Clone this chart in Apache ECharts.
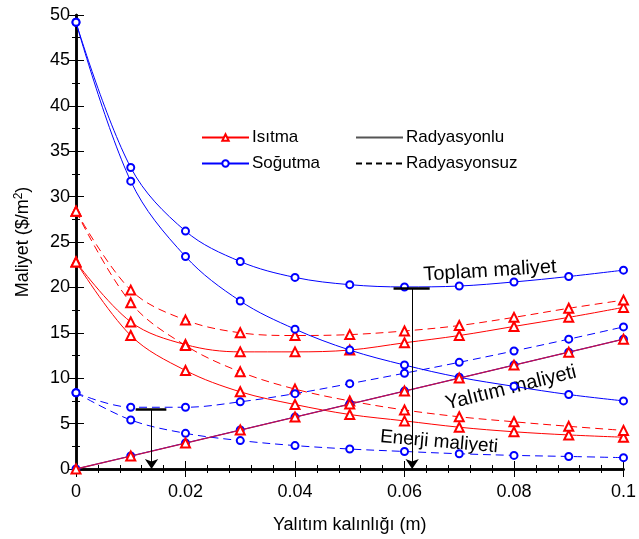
<!DOCTYPE html>
<html>
<head>
<meta charset="utf-8">
<script src="https://cdn.jsdelivr.net/npm/echarts@6/dist/echarts.min.js"></script>
<style>
html, body { margin: 0; background: #fff; }
#chart { width: 639px; height: 539px; }
</style>
</head>
<body>
<div id="chart"></div>
<script>
// kalinlik (m)
var xs = [0, 0.01, 0.02, 0.03, 0.04, 0.05, 0.06, 0.07, 0.08, 0.09, 0.1];

// Isitma
var heatTotalRad    = [22.8, 16.2, 13.7, 12.9, 12.9, 13.1, 13.9, 14.7, 15.7, 16.7, 17.8];
var heatEnergyRad   = [22.8, 14.7, 10.85, 8.5, 7.1, 6.0, 5.3, 4.6, 4.1, 3.75, 3.5];
var heatTotalNoRad  = [28.4, 19.7, 16.4, 15.0, 14.7, 14.8, 15.2, 15.8, 16.7, 17.7, 18.6];
var heatEnergyNoRad = [28.4, 18.3, 13.6, 10.7, 8.8, 7.5, 6.5, 5.75, 5.2, 4.7, 4.25];

// Sogutma
var coolTotalRad    = [49.2, 33.2, 26.2, 22.85, 21.1, 20.3, 20.05, 20.15, 20.6, 21.2, 21.9];
var coolEnergyRad   = [49.2, 31.7, 23.4, 18.5, 15.4, 13.1, 11.45, 10.1, 9.1, 8.2, 7.5];
var coolTotalNoRad  = [8.4, 6.8, 6.8, 7.4, 8.3, 9.4, 10.55, 11.75, 13.0, 14.3, 15.65];
var coolEnergyNoRad = [8.4, 5.4, 3.93, 3.13, 2.58, 2.2, 1.93, 1.68, 1.5, 1.38, 1.25];

// Yalitim maliyeti
var insulation = [0, 1.43, 2.86, 4.29, 5.72, 7.15, 8.58, 10.01, 11.44, 12.87, 14.3];

// optimum isaretleri
var optLow  = { x: 0.0138, y: 6.6, from: 0.0109, to: 0.0165 };
var optHigh = { x: 0.0614, y: 19.9, from: 0.058, to: 0.0646 };

var RED = '#ff0000', BLUE = '#0000ff';
var FONT = 'Liberation Sans, Arial, sans-serif';

function pairs(vals) {
    return xs.map(function (x, i) { return [x, vals[i]]; });
}

function curve(name, vals, color, dashed, z) {
    return {
        name: name,
        type: 'line',
        data: pairs(vals),
        smooth: 0.35,
        symbol: color == RED ? 'emptyTriangle' : 'emptyCircle',
        symbolSize: color == RED ? 9 : 7,
        z: z || 2,
        lineStyle: { color: color, width: 1, type: dashed ? [8, 5] : 'solid' },
        itemStyle: { color: color, borderWidth: 1.2 }
    };
}

var myChart = echarts.init(document.getElementById('chart'));

function legendAt(left, names) {
    return {
        data: names,
        orient: 'vertical', left: left, top: 129, padding: 0,
        itemWidth: 47, itemHeight: 8, itemGap: 9,
        textStyle: { fontFamily: FONT, fontSize: 17, color: '#000', padding: [0, 0, 0, -2] }
    };
}

function frameAxis(extra) {
    var a = {
        type: 'value',
        axisLine: { lineStyle: { color: '#000', width: 2.5 } },
        axisTick: { inside: true, length: 8, lineStyle: { color: '#000', width: 1 } },
        minorTick: { show: true, length: 4, lineStyle: { color: '#000' } },
        splitLine: { show: false }
    };
    for (var k in extra) a[k] = extra[k];
    return a;
}

var option = {
    animation: false,
    grid: { left: 76, right: 11, top: 15, bottom: 67 },
    legend: [
        legendAt(201, ['Isıtma', 'Soğutma']),
        legendAt(355, ['Radyasyonlu', 'Radyasyonsuz'])
    ],
    xAxis: [
        frameAxis({
            min: 0, max: 0.1, interval: 0.02,
            name: 'Yalıtım kalınlığı (m)', nameLocation: 'middle', nameGap: 47,
            nameTextStyle: { fontFamily: FONT, fontSize: 18, color: '#000' },
            minorTick: { show: true, splitNumber: 5, length: 4, lineStyle: { color: '#000' } },
            axisLabel: { fontFamily: FONT, fontSize: 18, color: '#000', margin: 14 }
        }),
        frameAxis({
            min: 0, max: 0.1, interval: 0.02, position: 'top',
            minorTick: { show: true, splitNumber: 5, length: 4, lineStyle: { color: '#000' } },
            axisLabel: { show: false }
        })
    ],
    yAxis: [
        frameAxis({
            min: 0, max: 50, interval: 5,
            name: 'Maliyet ($/m{s|2})', nameLocation: 'middle', nameGap: 42,
            nameTextStyle: {
                fontFamily: FONT, fontSize: 18, color: '#000',
                rich: { s: { fontFamily: FONT, fontSize: 12, color: '#000', padding: [0, 0, 9, 0] } }
            },
            minorTick: { show: true, splitNumber: 2, length: 4, lineStyle: { color: '#000' } },
            axisLabel: { fontFamily: FONT, fontSize: 18, color: '#000', margin: 6 }
        }),
        frameAxis({
            min: 0, max: 50, interval: 5, position: 'right',
            minorTick: { show: true, splitNumber: 2, length: 4, lineStyle: { color: '#000' } },
            axisLabel: { show: false }
        })
    ],
    series: [
        curve('Isıtma', heatTotalRad, RED, false),
        curve('Isıtma', heatEnergyRad, RED, false),
        curve('Isıtma', heatTotalNoRad, RED, true),
        curve('Isıtma', heatEnergyNoRad, RED, true),
        curve('Soğutma', coolTotalRad, BLUE, false),
        curve('Soğutma', coolEnergyRad, BLUE, false),
        curve('Soğutma', coolTotalNoRad, BLUE, true),
        curve('Soğutma', coolEnergyNoRad, BLUE, true),
        curve('Soğutma', insulation, BLUE, false, 3),
        (function () {
            var s = curve('Isıtma', insulation, RED, false, 4);
            s.lineStyle.color = '#c0104a';
            s.lineStyle.width = 1.3;
            return s;
        })(),
        {
            name: 'Radyasyonlu', type: 'line', data: [], symbol: 'none',
            lineStyle: { color: '#555', width: 2 },
            itemStyle: { color: 'rgba(0,0,0,0)', borderColor: 'rgba(0,0,0,0)' }
        },
        {
            name: 'Radyasyonsuz', type: 'line', data: [], symbol: 'none',
            lineStyle: { color: '#000', width: 1, type: [6, 4] },
            itemStyle: { color: 'rgba(0,0,0,0)', borderColor: 'rgba(0,0,0,0)' }
        },
        {
            name: 'optimum', type: 'line', data: [], z: 6,
            markLine: {
                silent: true, animation: false,
                label: { show: false },
                lineStyle: { color: '#000', width: 1, type: 'solid' },
                symbolSize: 10,
                data: [
                    [{ coord: [optLow.x, optLow.y], symbol: 'none' }, { coord: [optLow.x, 0], symbol: 'arrow' }],
                    [{ coord: [optHigh.x, optHigh.y], symbol: 'none' }, { coord: [optHigh.x, 0], symbol: 'arrow' }],
                    [{ coord: [optLow.from, optLow.y], symbol: 'none', lineStyle: { width: 2.5 } }, { coord: [optLow.to, optLow.y], symbol: 'none' }],
                    [{ coord: [optHigh.from, optHigh.y], symbol: 'none', lineStyle: { width: 2.5 } }, { coord: [optHigh.to, optHigh.y], symbol: 'none' }]
                ]
            }
        }
    ],
    graphic: [
        {
            type: 'text', x: 490, y: 271, rotation: 3.5 * Math.PI / 180,
            style: { text: 'Toplam maliyet', font: '20px ' + FONT, fill: '#000', align: 'center', verticalAlign: 'middle' }
        },
        {
            type: 'text', x: 511, y: 388, rotation: 14 * Math.PI / 180,
            style: { text: 'Yalıtım maliyeti', font: '20px ' + FONT, fill: '#000', align: 'center', verticalAlign: 'middle' }
        },
        {
            type: 'text', x: 439, y: 442, rotation: -5 * Math.PI / 180,
            style: { text: 'Enerji maliyeti', font: '19px ' + FONT, fill: '#000', align: 'center', verticalAlign: 'middle' }
        }
    ]
};

myChart.setOption(option);
</script>
</body>
</html>
